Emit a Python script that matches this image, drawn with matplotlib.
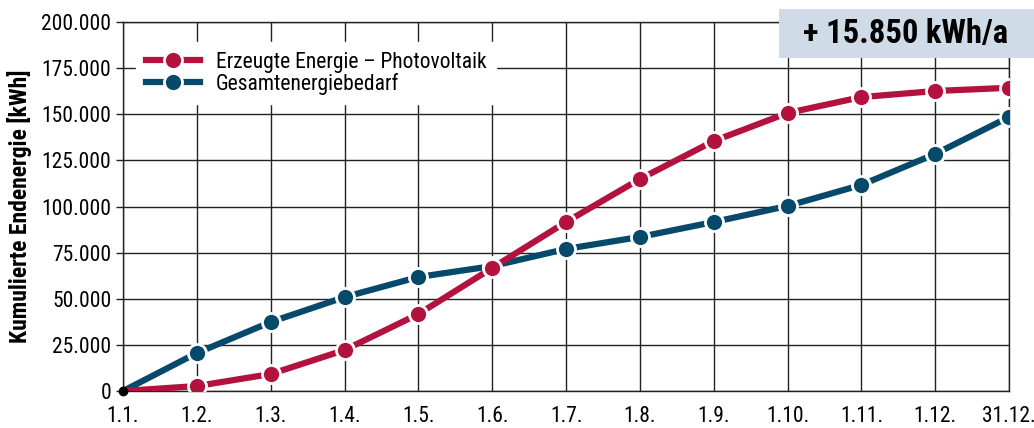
import matplotlib.pyplot as plt
from matplotlib.patches import Rectangle
from matplotlib.ticker import FuncFormatter

plt.rcParams['font.family'] = ['Liberation Sans Narrow', 'Roboto Condensed',
                               'DejaVu Sans Condensed', 'Liberation Sans', 'DejaVu Sans']
plt.rcParams['font.stretch'] = 'condensed'

# Data
labels = ["1.1.", "1.2.", "1.3.", "1.4.", "1.5.", "1.6.", "1.7.", "1.8.",
          "1.9.", "1.10.", "1.11.", "1.12.", "31.12."]
pv = [0, 2700, 9200, 22200, 41700, 66700, 91600, 114900, 135500,
      150700, 159300, 162600, 164350]
bedarf = [0, 20600, 37400, 50900, 61800, 67700, 77000, 83500, 91600,
          100300, 111700, 128500, 148500]
yticks = [0, 25000, 50000, 75000, 100000, 125000, 150000, 175000, 200000]

red = "#b3123f"
blue = "#07496b"

fig = plt.figure(figsize=(10.34, 4.28), dpi=100)
ax = fig.add_axes([0.119, 0.0864, 0.8569, 0.8622])

x = list(range(len(labels)))
ax.plot(x[1:], bedarf[1:], "o", ls="-", color=blue, lw=4.5, ms=13,
        mec="white", mew=2, zorder=4, label="Gesamtenergiebedarf")
ax.plot(x[:2], bedarf[:2], "-", color=blue, lw=4.5, zorder=3.9)
ax.plot(x[1:], pv[1:], "o", ls="-", color=red, lw=4.5, ms=13,
        mec="white", mew=2, zorder=5, label="Erzeugte Energie – Photovoltaik")
ax.plot(x[:2], pv[:2], "-", color=red, lw=4.5, zorder=4.9)
ax.plot([x[0]], [pv[0]], "o", color="black", ms=6, zorder=6, clip_on=False)

ax.set_xlim(0, len(labels) - 1)
ax.set_ylim(0, 200000)
ax.set_xticks(x)
ax.set_xticklabels(labels)
ax.set_yticks(yticks)
ax.yaxis.set_major_formatter(FuncFormatter(lambda v, p: f"{int(v):,}".replace(",", ".")))
ax.grid(True, color="#222222", lw=1)
ax.set_axisbelow(True)
ax.tick_params(axis="x", length=0, pad=11, labelsize=15.5)
ax.tick_params(axis="y", length=5, width=1, color="#222222", labelsize=15.5)
for s in ax.spines.values():
    s.set_color("#222222")
    s.set_linewidth(1)
ax.set_ylabel("Kumulierte Endenergie [kWh]", fontsize=17, fontweight="bold", labelpad=7)

h, l = ax.get_legend_handles_labels()
leg = ax.legend(h[::-1], l[::-1], loc="upper left", bbox_to_anchor=(0.003, 0.975),
                frameon=True, fancybox=False, edgecolor="white", framealpha=1,
                fontsize=15.5, handlelength=2.5, labelspacing=0.0, borderpad=0.45,
                handletextpad=0.75)
leg.set_zorder(10)

fig.patches.append(Rectangle((0.7534, 0.8645), 0.2466, 0.1145, transform=fig.transFigure,
                             fc="#cfdce8", ec="none", zorder=20))
fig.text(0.876, 0.921, "+ 15.850 kWh/a", fontsize=23.5, fontweight="bold",
         ha="center", va="center", zorder=21)

fig.savefig("out.png", dpi=100)
